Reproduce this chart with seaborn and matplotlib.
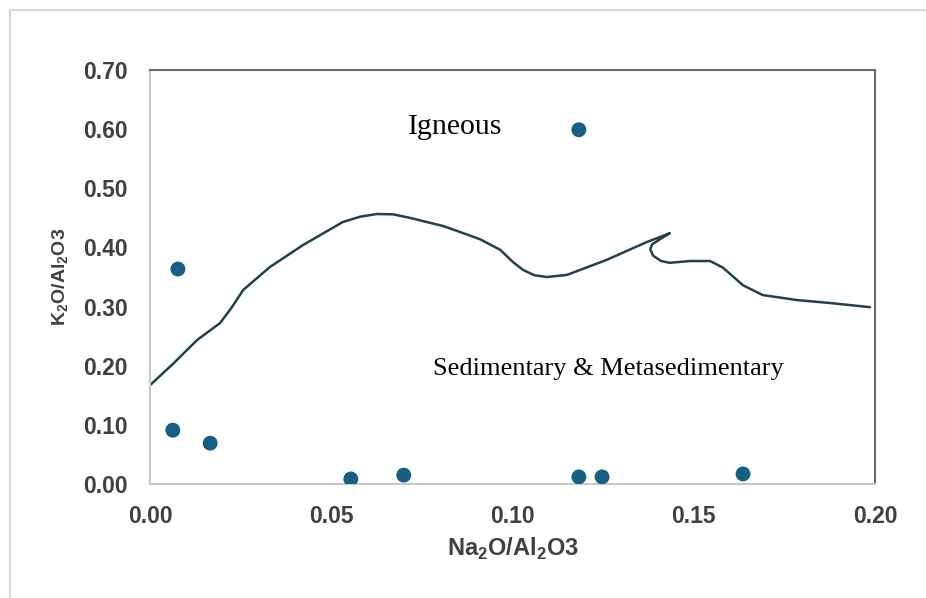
import matplotlib
matplotlib.use("Agg")
import matplotlib.pyplot as plt
import seaborn as sns
import pandas as pd
from matplotlib.lines import Line2D

# sample points
na2o = [0.0077, 0.0063, 0.0166, 0.0554, 0.0700, 0.1183, 0.1183, 0.1247, 0.1636]
k2o = [0.3635, 0.0910, 0.0690, 0.0085, 0.0150, 0.5990, 0.0120, 0.0120, 0.0170]

# igneous / sedimentary boundary line (hand traced)
line_x = [0.0, 0.0065, 0.0130, 0.0193, 0.0225, 0.0257, 0.0331, 0.0422, 0.0532,
          0.0580, 0.0626, 0.0670, 0.0717, 0.0810, 0.0910, 0.0966, 0.1000, 0.1029,
          0.1060, 0.1095, 0.1150, 0.1260, 0.1370, 0.1434, 0.1407, 0.1385, 0.1380,
          0.1388, 0.1410, 0.1434, 0.1490, 0.1545, 0.1580, 0.1610, 0.1636, 0.1690,
          0.1785, 0.1876, 0.1986]
line_y = [0.167, 0.204, 0.2435, 0.272, 0.298, 0.328, 0.367, 0.404, 0.443,
          0.452, 0.4565, 0.4560, 0.450, 0.436, 0.414, 0.396, 0.376, 0.362,
          0.353, 0.350, 0.3535, 0.379, 0.409, 0.424, 0.414, 0.405, 0.397,
          0.386, 0.377, 0.374, 0.377, 0.377, 0.366, 0.350, 0.336, 0.3195,
          0.311, 0.306, 0.299]

x_ticks = [0.00, 0.05, 0.10, 0.15, 0.20]
y_ticks = [0.00, 0.10, 0.20, 0.30, 0.40, 0.50, 0.60, 0.70]

pts = pd.DataFrame({"x": na2o, "y": k2o})
bound = pd.DataFrame({"x": line_x, "y": line_y})

sns.set_style("white")
plt.rcParams["font.family"] = ["Liberation Sans", "DejaVu Sans"]

fig = plt.figure(figsize=(9.26, 5.98), dpi=100)
ax = fig.add_axes([150 / 926, 1 - 484 / 598, 725 / 926, 414 / 598])

sns.lineplot(data=bound, x="x", y="y", sort=False, estimator=None,
             color="#23404d", linewidth=1.8, ax=ax)
sns.scatterplot(data=pts, x="x", y="y", color="#156082", s=115,
                edgecolor="none", ax=ax, zorder=3)

ax.set_xlim(0, 0.20)
ax.set_ylim(0, 0.70)
ax.set_xticks(x_ticks)
ax.set_yticks(y_ticks)
ax.set_xticklabels([f"{v:.2f}" for v in x_ticks])
ax.set_yticklabels([f"{v:.2f}" for v in y_ticks])
ax.tick_params(length=0, labelsize=16.5, colors="#404040")
ax.tick_params(axis="y", pad=16)
ax.tick_params(axis="x", pad=15)
for lab in ax.get_xticklabels() + ax.get_yticklabels():
    lab.set_fontweight("bold")

ax.spines["left"].set_color("#c8c8c8")
ax.spines["bottom"].set_color("#c8c8c8")
ax.spines["top"].set_color("#6a6a6a")
ax.spines["right"].set_color("#6a6a6a")
for s in ax.spines.values():
    s.set_linewidth(1.5)

ax.set_xlabel(r"Na$_\mathregular{2}$O/Al$_\mathregular{2}$O3", fontsize=17,
              fontweight="bold", color="#404040", labelpad=6)
ax.set_ylabel(r"K$_\mathregular{2}$O/Al$_\mathregular{2}$O3", fontsize=14,
              fontweight="bold", color="#404040", labelpad=9)

ax.text(0.0842, 0.603, "Igneous", family="Liberation Serif", fontsize=21.5,
        ha="center", va="center", color="black")
ax.text(0.1265, 0.194, "Sedimentary & Metasedimentary", family="Liberation Serif",
        fontsize=19, ha="center", va="center", color="black")

# outer frame (screenshot border, only left and top visible)
fig.add_artist(Line2D([10 / 926, 10 / 926], [0, 1 - 10 / 598],
                      transform=fig.transFigure, color="#d9d9d9", linewidth=1.5))
fig.add_artist(Line2D([10 / 926, 1], [1 - 10 / 598, 1 - 10 / 598],
                      transform=fig.transFigure, color="#d9d9d9", linewidth=1.5))

fig.savefig("out.png", dpi=100)
